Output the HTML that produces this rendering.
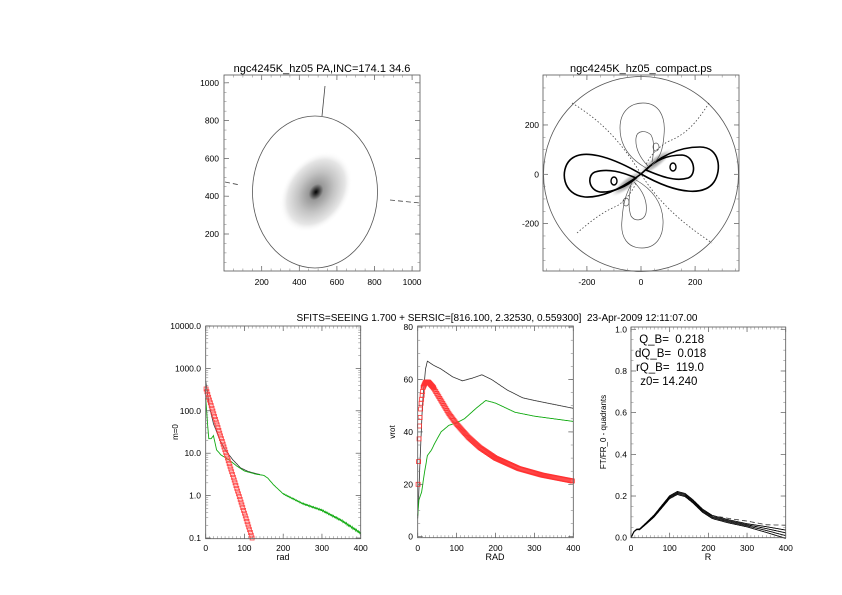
<!DOCTYPE html>
<html><head><meta charset="utf-8"><style>
body{margin:0;background:#fff}
svg{display:block}
text{font-family:"Liberation Sans",sans-serif;fill:#000;white-space:pre}
</style></head><body>
<svg id="s" width="842" height="595" viewBox="0 0 842 595" xmlns="http://www.w3.org/2000/svg">
<defs>
<radialGradient id="gal" cx="0.5" cy="0.5" r="0.5">
<stop offset="0" stop-color="#000"/>
<stop offset="0.07" stop-color="#333"/>
<stop offset="0.2" stop-color="#999"/>
<stop offset="0.5" stop-color="#c4c4c4"/>
<stop offset="0.8" stop-color="#e6e6e6"/>
<stop offset="1" stop-color="#fff" stop-opacity="0"/>
</radialGradient>
<radialGradient id="bar" cx="0.5" cy="0.5" r="0.5">
<stop offset="0" stop-color="#888"/>
<stop offset="0.6" stop-color="#ccc"/>
<stop offset="1" stop-color="#fff" stop-opacity="0"/>
</radialGradient>
</defs>
<g id="g"></g>
</svg>
<script>
var g=document.getElementById('g'),NS='http://www.w3.org/2000/svg';
function el(t,a,txt){var e=document.createElementNS(NS,t);for(var k in a)e.setAttribute(k,a[k]);if(txt!=null)e.textContent=txt;g.appendChild(e);return e;}
function txt(x,y,s,size,anchor,rot){var a={x:x,y:y,'font-size':size||9,'text-anchor':anchor||'middle'};if(rot)a.transform='rotate(-90 '+x+' '+y+')';el('text',a,s);}
function box(x0,y0,x1,y1){el('rect',{x:x0,y:y0,width:x1-x0,height:y1-y0,fill:'none',stroke:'#555','stroke-width':0.8});}
function interp(pts,x){for(var i=0;i<pts.length-1;i++){if(x<=pts[i+1][0]){var t=(x-pts[i][0])/(pts[i+1][0]-pts[i][0]);return pts[i][1]+t*(pts[i+1][1]-pts[i][1]);}}return pts[pts.length-1][1];}
function line(pts,fx,fy,attrs,step,x0,x1,noise){var d='';for(var x=x0;x<=x1;x+=step){var y=interp(pts,x);if(noise)y+=noise(x);d+=(d?'L':'M')+fx(x).toFixed(1)+' '+fy(y).toFixed(1);}var a={d:d,fill:'none'};for(var k in attrs)a[k]=attrs[k];el('path',a);}
function ticksX(x0,x1,y0,y1,vals,fx,minor){vals.forEach(function(v){var X=fx(v);el('line',{x1:X,y1:y1,x2:X,y2:y1-5,stroke:'#555','stroke-width':0.7});el('line',{x1:X,y1:y0,x2:X,y2:y0+5,stroke:'#555','stroke-width':0.7});});if(minor)minor.forEach(function(v){var X=fx(v);el('line',{x1:X,y1:y1,x2:X,y2:y1-2.5,stroke:'#777','stroke-width':0.5});el('line',{x1:X,y1:y0,x2:X,y2:y0+2.5,stroke:'#777','stroke-width':0.5});});}
function ticksY(x0,x1,vals,fy,minor){vals.forEach(function(v){var Y=fy(v);el('line',{x1:x0,y1:Y,x2:x0+5,y2:Y,stroke:'#555','stroke-width':0.7});el('line',{x1:x1,y1:Y,x2:x1-5,y2:Y,stroke:'#555','stroke-width':0.7});});if(minor)minor.forEach(function(v){var Y=fy(v);el('line',{x1:x0,y1:Y,x2:x0+2.5,y2:Y,stroke:'#777','stroke-width':0.5});el('line',{x1:x1,y1:Y,x2:x1-2.5,y2:Y,stroke:'#777','stroke-width':0.5});});}
function rng(a,b,s){var r=[];for(var v=a;v<=b+1e-9;v+=s)r.push(v);return r;}

// ---------- Panel 1 ----------
var p1x=function(v){return 224.1+v*0.188},p1y=function(v){return 271.8-v*0.189};
el('ellipse',{cx:316,cy:192,rx:32,ry:44,fill:'url(#gal)',transform:'rotate(35 316 192)'});
el('ellipse',{cx:315,cy:192,rx:62.5,ry:76,fill:'none',stroke:'#555','stroke-width':0.8});
el('line',{x1:322,y1:116,x2:325,y2:86,stroke:'#444','stroke-width':0.8});
el('line',{x1:225,y1:182,x2:240,y2:185,stroke:'#444','stroke-width':0.8,'stroke-dasharray':'5,3'});
el('line',{x1:390,y1:200,x2:420,y2:203,stroke:'#444','stroke-width':0.8,'stroke-dasharray':'5,3'});
box(224,75,420,271);
ticksX(224,420,75,271,[200,400,600,800,1000],p1x,rng(50,1000,50));
ticksY(224,420,[200,400,600,800,1000],p1y,rng(50,1000,50));
[200,400,600,800,1000].forEach(function(v){txt(p1x(v),285,v,8.5);txt(219,p1y(v)+3,v,8.5,'end');});
txt(322,72,'ngc4245K_hz05 PA,INC=174.1 34.6',11);

// ---------- Panel 2 ----------
var cx=641,cy=174;
el('ellipse',{cx:628,cy:183,rx:22,ry:6,fill:'url(#bar)',transform:'rotate(-38 628 183)'});
el('ellipse',{cx:656,cy:162,rx:22,ry:6,fill:'url(#bar)',transform:'rotate(-38 656 162)'});
el('circle',{cx:cx,cy:cy,r:97.5,fill:'none',stroke:'#555','stroke-width':0.8});
var thick={stroke:'#000','stroke-width':1.6,fill:'none'};
function P(d,a){var o={d:d};for(var k in a)o[k]=a[k];el('path',o);}
P('M641,174 C655,160 675,147 700,147 C720,147 722,170 714,182 C705,195 680,196 641,174 Z',thick);
P('M641,174 C625,186 605,198 585,197 C562,195 560,170 570,160 C582,148 610,156 641,174 Z',thick);
P('M646,170 C655,160 668,155 682,155 C695,156 697,175 688,178 C675,182 660,176 646,170 Z',thick);
P('M636,178 C628,186 612,193 600,192 C588,190 587,175 595,172 C608,168 622,172 636,178 Z',thick);
el('ellipse',{cx:673,cy:167,rx:3,ry:4,fill:'none',stroke:'#000','stroke-width':1.4});
el('ellipse',{cx:614,cy:181,rx:3,ry:4,fill:'none',stroke:'#000','stroke-width':1.4});
var thin={stroke:'#555','stroke-width':0.7,fill:'none'};
P('M646,168 C632,160 620,148 620,128 C620,110 632,103 643,103 C658,103 666,115 664,135 C663,150 660,158 652,165',thin);
P('M648,166 C640,158 635,148 636,138 C637,130 646,130 651,135 C655,142 654,152 652,162',thin);
P('M636,180 C650,188 662,200 663,220 C664,238 655,248 642,248 C628,248 620,238 622,220 C623,200 628,190 632,183',thin);
P('M634,182 C642,190 648,200 646,213 C644,221 635,222 631,216 C628,208 629,196 631,186',thin);
el('ellipse',{cx:656,cy:147,rx:3,ry:4,fill:'none',stroke:'#555','stroke-width':0.7});
el('ellipse',{cx:626,cy:202,rx:3,ry:4,fill:'none',stroke:'#555','stroke-width':0.7});
var dot={stroke:'#444','stroke-width':0.8,fill:'none','stroke-dasharray':'1.5,2'};
P('M572,103 C600,120 620,140 641,174 C662,208 690,228 712,243',dot);
P('M709,103 C695,125 685,135 667,142 C658,148 650,155 646,165',dot);
P('M577,233 C590,222 602,212 617,206 C626,200 632,192 636,183',dot);
box(543,75,739,271);
ticksX(543,739,75,271,[-200,0,200],function(v){return 641+v*0.2705},rng(-350,350,50));
ticksY(543,739,[-200,0,200],function(v){return 174.3-v*0.2467},rng(-350,350,50));
[-200,0,200].forEach(function(v){txt(641+v*0.2705,285,v,8.5);txt(539,174.3-v*0.2467+3,v,8.5,'end');});
txt(641,72,'ngc4245K_hz05_compact.ps',11);

// ---------- Title ----------
txt(497,321,'SFITS=SEEING 1.700 + SERSIC=[816.100, 2.32530, 0.559300]  23-Apr-2009 12:11:07.00',10);

// ---------- Panel A ----------
var ax=function(v){return 205.7+v*0.3875},ay=function(v){return 326+(4-Math.log10(v))*42.4};
var ayl=function(l){return 326+(4-l)*42.4};
var blackA=[[0,500],[10,120],[20,50],[35,22],[50,12],[70,7],[90,4.5],[110,3.7],[130,3.3],[150,3],[170,2],[200,1.1],[250,0.65],[300,0.45],[350,0.26],[400,0.13]];
var greenA=[[0,200],[4,60],[8,22],[14,22],[20,26],[28,12],[40,9],[60,7],[80,5],[100,3.8],[130,3.2],[150,3],[160,2.6],[175,1.8],[200,1.1],[250,0.65],[300,0.45],[350,0.26],[400,0.13]];
line(blackA.map(function(p){return [p[0],Math.log10(p[1])]}),ax,ayl,{stroke:'#333','stroke-width':0.8},1,0,140);
line(greenA.map(function(p){return [p[0],Math.log10(p[1])]}),ax,ayl,{stroke:'#1a1','stroke-width':0.9},1,0,400,function(x){return x>200?Math.sin(x*1.7)*0.012*(x/200):0});
for(var r=1;r<=120;r+=2.2){var l=Math.log10(350)-r*(3.55/120);el('rect',{x:ax(r)-2,y:ayl(l)-2,width:4,height:4,fill:'none',stroke:'#f44','stroke-width':0.8});}
box(205.7,326,360.7,538.7);
ticksX(205.7,360.7,326,538.7,[0,100,200,300,400],ax,rng(10,400,10));
var dec=[0.1,1,10,100,1000,10000],mn=[];for(var e=-1;e<4;e++)for(var k=2;k<10;k++)mn.push(k*Math.pow(10,e));
ticksY(205.7,360.7,dec,ay,mn);
['0.1','1.0','10.0','100.0','1000.0','10000.0'].forEach(function(s,i){txt(201,ay(dec[i])+3,s,8.5,'end');});
[0,100,200,300,400].forEach(function(v){txt(ax(v),551,v,8.5);});
txt(283,560,'rad',9);txt(178,432,'m=0',8,'middle',true);

// ---------- Panel B ----------
var bx=function(v){return 417.7+v*0.389},by=function(v){return 536.7-v*2.62};
line([[0,7],[5,25],[12,50],[20,64],[25,67],[40,65.5],[60,64],[90,61],[115,59.5],[140,60.5],[165,61.8],[190,60],[230,56],[270,53],[300,52],[350,50.5],[400,49]],bx,by,{stroke:'#333','stroke-width':0.8},1,0,400);
line([[0,8],[3,14],[10,17],[18,25],[25,31],[35,33],[45,36],[60,40],[80,42.5],[100,43.5],[120,45],[150,49],[175,52],[200,51],[250,47.5],[300,46],[350,45],[400,44]],bx,by,{stroke:'#1a1','stroke-width':0.9},1,0,400);
for(var r=1;r<=400;r+=(r<40?1.3:2.6)){var v=interp([[1,20],[4,40],[8,50],[14,57],[20,59],[28,59],[40,57],[60,52],[80,47],[100,43],[130,38],[160,34],[200,30],[260,26],[320,23.5],[400,21.2]],r);el('rect',{x:bx(r)-2,y:by(v)-2,width:4,height:4,fill:'none',stroke:'#f33','stroke-width':0.8});}
box(417.7,326,573.3,537.7);
ticksX(417.7,573.3,326,537.7,[0,100,200,300,400],bx,rng(10,400,10));
ticksY(417.7,573.3,[0,20,40,60,80],by,rng(5,80,5));
[0,20,40,60,80].forEach(function(v){txt(413,by(v)+3,v,8.5,'end');});
[0,100,200,300,400].forEach(function(v){txt(bx(v),551,v,8.5);});
txt(495,560,'RAD',9);txt(395,432,'vrot',8,'middle',true);

// ---------- Panel C ----------
var cxf=function(v){return 631+v*0.3868},cyf=function(v){return 537.7-v*208.4};
var base=[[0,0],[8,0.03],[15,0.04],[22,0.04],[40,0.07],[60,0.105],[80,0.15],[100,0.195],[120,0.215],[140,0.205],[160,0.175],[185,0.13],[210,0.1],[250,0.08],[300,0.06],[350,0.04],[400,0.018]];
[-0.008,-0.003,0.002,0.007].forEach(function(o,i){line(base,cxf,function(v){return cyf(v)},{stroke:'#000','stroke-width':0.9},1,0,400,function(x){return o*Math.sin(Math.PI*Math.min(x,140)/280)+ (x>300?o*(x-300)/60:0);});});
line([[205,0.1],[230,0.1],[260,0.09],[300,0.08],[350,0.062],[400,0.06]],cxf,cyf,{stroke:'#333','stroke-width':0.8,'stroke-dasharray':'5,3'},2,205,400);
box(631,327,785.7,537.7);
ticksX(631,785.7,327,537.7,[0,100,200,300,400],cxf,rng(10,400,10));
ticksY(631,785.7,[0,0.2,0.4,0.6,0.8,1.0],cyf,rng(0.05,1,0.05));
['0.0','0.2','0.4','0.6','0.8','1.0'].forEach(function(s,i){txt(627,cyf(i*0.2)+3,s,8.5,'end');});
[0,100,200,300,400].forEach(function(v){txt(cxf(v),551,v,8.5);});
txt(708,560,'R',9);txt(606,432,'FT/FR_0 - quadrants',8,'middle',true);
txt(636,343,' Q_B=  0.218',11.5,'start');
txt(635,357,'dQ_B=  0.018',11.5,'start');
txt(636,371,'rQ_B=  119.0',11.5,'start');
txt(637,385,' z0= 14.240',11.5,'start');
</script>
</body></html>
